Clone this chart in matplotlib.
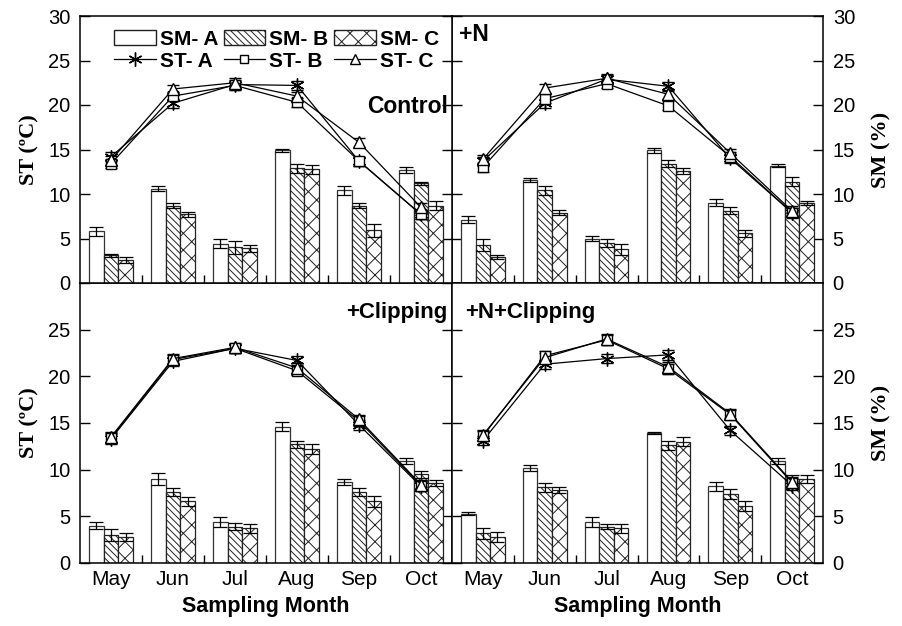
import matplotlib
matplotlib.use("Agg")
import matplotlib.pyplot as plt
import numpy as np
from matplotlib.patches import Patch
from matplotlib.lines import Line2D

months = ["May", "Jun", "Jul", "Aug", "Sep", "Oct"]
panels = ["Control", "+N", "+Clipping", "+N+Clipping"]

# Soil moisture (bars) per panel: A, B, C
sm_A = {"Control": [5.8, 10.6, 4.4, 14.9, 10.4, 12.7],
        "+N": [7.1, 11.6, 5.0, 14.9, 9.0, 13.2],
        "+Clipping": [4.0, 9.0, 4.4, 14.6, 8.7, 10.9],
        "+N+Clipping": [5.3, 10.2, 4.4, 13.9, 8.2, 10.9]}
sm_B = {"Control": [3.1, 8.7, 4.0, 12.9, 8.7, 11.2],
        "+N": [4.3, 10.4, 4.5, 13.4, 8.1, 11.4],
        "+Clipping": [3.0, 7.6, 3.9, 12.7, 7.6, 9.5],
        "+N+Clipping": [3.2, 8.1, 3.9, 12.6, 7.4, 9.0]}
sm_C = {"Control": [2.6, 7.7, 3.9, 12.8, 5.9, 8.7],
        "+N": [2.9, 7.9, 3.8, 12.6, 5.6, 9.0],
        "+Clipping": [2.8, 6.6, 3.7, 12.2, 6.6, 8.6],
        "+N+Clipping": [2.8, 7.8, 3.7, 13.0, 6.1, 9.0]}
sm_A_err = {"Control": [0.5, 0.3, 0.5, 0.2, 0.5, 0.3],
            "+N": [0.4, 0.2, 0.3, 0.3, 0.4, 0.2],
            "+Clipping": [0.4, 0.6, 0.5, 0.5, 0.3, 0.3],
            "+N+Clipping": [0.2, 0.3, 0.5, 0.1, 0.5, 0.3]}
sm_B_err = {"Control": [0.2, 0.3, 0.7, 0.5, 0.3, 0.2],
            "+N": [0.7, 0.5, 0.4, 0.4, 0.4, 0.5],
            "+Clipping": [0.6, 0.4, 0.4, 0.4, 0.4, 0.4],
            "+N+Clipping": [0.6, 0.5, 0.3, 0.5, 0.5, 0.4]}
sm_C_err = {"Control": [0.3, 0.3, 0.4, 0.5, 0.7, 0.5],
            "+N": [0.2, 0.3, 0.6, 0.3, 0.4, 0.2],
            "+Clipping": [0.4, 0.5, 0.5, 0.5, 0.6, 0.3],
            "+N+Clipping": [0.5, 0.3, 0.5, 0.5, 0.5, 0.4]}

# Soil temperature (lines) per panel: A, B, C
st_A = {"Control": [14.2, 20.2, 22.3, 22.2, 13.7, 7.7],
        "+N": [13.7, 20.2, 22.9, 22.1, 14.0, 7.9],
        "+Clipping": [13.3, 21.6, 23.0, 21.7, 14.8, 8.2],
        "+N+Clipping": [13.1, 21.3, 21.9, 22.3, 14.2, 8.3]}
st_B = {"Control": [13.4, 21.0, 22.2, 20.3, 13.7, 7.7],
        "+N": [13.0, 20.7, 22.4, 19.9, 14.2, 7.9],
        "+Clipping": [13.4, 21.8, 23.0, 20.6, 15.2, 8.3],
        "+N+Clipping": [13.6, 22.2, 23.9, 20.8, 15.9, 8.6]}
st_C = {"Control": [13.8, 21.8, 22.5, 21.0, 15.8, 8.5],
        "+N": [13.9, 21.9, 23.0, 21.2, 14.6, 8.1],
        "+Clipping": [13.5, 21.9, 23.1, 20.9, 15.4, 8.4],
        "+N+Clipping": [13.7, 22.0, 24.0, 21.0, 16.0, 8.7]}
st_err = 0.5

plt.rcParams["font.family"] = ["Liberation Sans", "DejaVu Sans"]
plt.rcParams["hatch.linewidth"] = 0.7

fig = plt.figure(figsize=(9.03, 6.26), dpi=100)
W, H = 903.0, 626.0
rects = {
    "Control": (80 / W, (H - 283) / H, 372 / W, 267 / H),
    "+N": (452 / W, (H - 283) / H, 371 / W, 267 / H),
    "+Clipping": (80 / W, (H - 563) / H, 372 / W, 280 / H),
    "+N+Clipping": (452 / W, (H - 563) / H, 371 / W, 280 / H),
}

x = np.arange(len(months))
bw = 0.235
ekw = dict(ecolor="black", elinewidth=0.9, capsize=5, capthick=0.9)
serif = ["Liberation Serif", "DejaVu Serif"]

for p in panels:
    ax = fig.add_axes(rects[p])
    ax.bar(x - bw, sm_A[p], bw, yerr=sm_A_err[p], color="white", edgecolor="#333333",
           linewidth=0.9, error_kw=ekw, zorder=2, label="SM- A")
    ax.bar(x, sm_B[p], bw, yerr=sm_B_err[p], color="white", edgecolor="#222222",
           hatch="\\\\\\\\\\", linewidth=0.9, error_kw=ekw, zorder=2, label="SM- B")
    ax.bar(x + bw, sm_C[p], bw, yerr=sm_C_err[p], color="white", edgecolor="#222222",
           hatch="xx", linewidth=0.9, error_kw=ekw, zorder=2, label="SM- C")
    lkw = dict(color="black", lw=0.9, ms=10, mew=1.0, mfc="white", mec="black",
               capsize=4, elinewidth=0.9, capthick=0.9, zorder=4)
    ax.errorbar(x, st_A[p], yerr=st_err, marker=(6, 2, 0), **lkw)
    ax.errorbar(x, st_B[p], yerr=st_err, marker="s", **{**lkw, "ms": 7})
    ax.errorbar(x, st_C[p], yerr=st_err, marker="^", **{**lkw, "ms": 8})

    ax.set_xlim(-0.5, 5.5)
    ax.set_ylim(0, 30)
    ax.set_yticks(np.arange(0, 31, 5))
    ax.tick_params(axis="y", direction="in", length=7, width=1, left=True, right=True,
                   labelsize=14.5, pad=7)
    ax.set_xticks(x)
    ax.set_xticks(np.arange(0.5, 5.0, 1.0), minor=True)
    ax.tick_params(axis="x", which="major", length=0, labelsize=15, pad=5)
    ax.tick_params(axis="x", which="minor", direction="in", length=6, width=1)
    for s in ax.spines.values():
        s.set_linewidth(1.1)

    top = p in ("Control", "+N")
    left = p in ("Control", "+Clipping")
    if top:
        ax.set_xticklabels([])
    else:
        ax.set_xticklabels(months)
        ax.set_xlabel("Sampling Month", fontsize=15.5, fontweight="bold", labelpad=5)
    if left:
        ax.tick_params(axis="y", labelleft=True, labelright=False)
        ax.set_ylabel("ST (ºC)", fontsize=16, fontweight="bold", family=serif, labelpad=6)
    else:
        ax.tick_params(axis="y", labelleft=False, labelright=True)
        ax.yaxis.set_label_position("right")
        ax.set_ylabel("SM (%)", fontsize=16, fontweight="bold", family=serif, labelpad=12)
    if not top:
        ax.set_yticks(np.arange(0, 26, 5))
        ax.set_ylim(0, 30)

    if p == "Control":
        ax.set_zorder(5)
        ax.text(0.988, 0.66, "Control", transform=ax.transAxes, ha="right", va="center",
                fontsize=16.5, fontweight="bold")
        handles = [
            Patch(facecolor="white", edgecolor="#222222", label="SM- A"),
            Line2D([], [], color="black", lw=0.9, marker=(6, 2, 0), ms=10, label="ST- A"),
            Patch(facecolor="white", edgecolor="#222222", hatch="\\\\\\\\\\", label="SM- B"),
            Line2D([], [], color="black", lw=0.9, marker="s", ms=6, mfc="white", label="ST- B"),
            Patch(facecolor="white", edgecolor="#222222", hatch="xx", label="SM- C"),
            Line2D([], [], color="black", lw=0.9, marker="^", ms=7, mfc="white", label="ST- C"),
        ]
        ax.legend(handles=handles, ncol=3, loc="upper left",
                  bbox_to_anchor=(0.055, 1.0), frameon=False,
                  prop={"weight": "bold", "size": 15},
                  handlelength=2.0, handletextpad=0.2, columnspacing=0.25,
                  labelspacing=0.15, borderaxespad=0.25, handleheight=0.75)
    elif p == "+N":
        ax.text(0.02, 0.93, "+N", transform=ax.transAxes, ha="left", va="center",
                fontsize=16.5, fontweight="bold")
    elif p == "+Clipping":
        ax.text(0.988, 0.895, "+Clipping", transform=ax.transAxes, ha="right", va="center",
                fontsize=16, fontweight="bold")
    else:
        ax.text(0.035, 0.895, "+N+Clipping", transform=ax.transAxes, ha="left", va="center",
                fontsize=16, fontweight="bold")

fig.savefig("out.png", dpi=100)
